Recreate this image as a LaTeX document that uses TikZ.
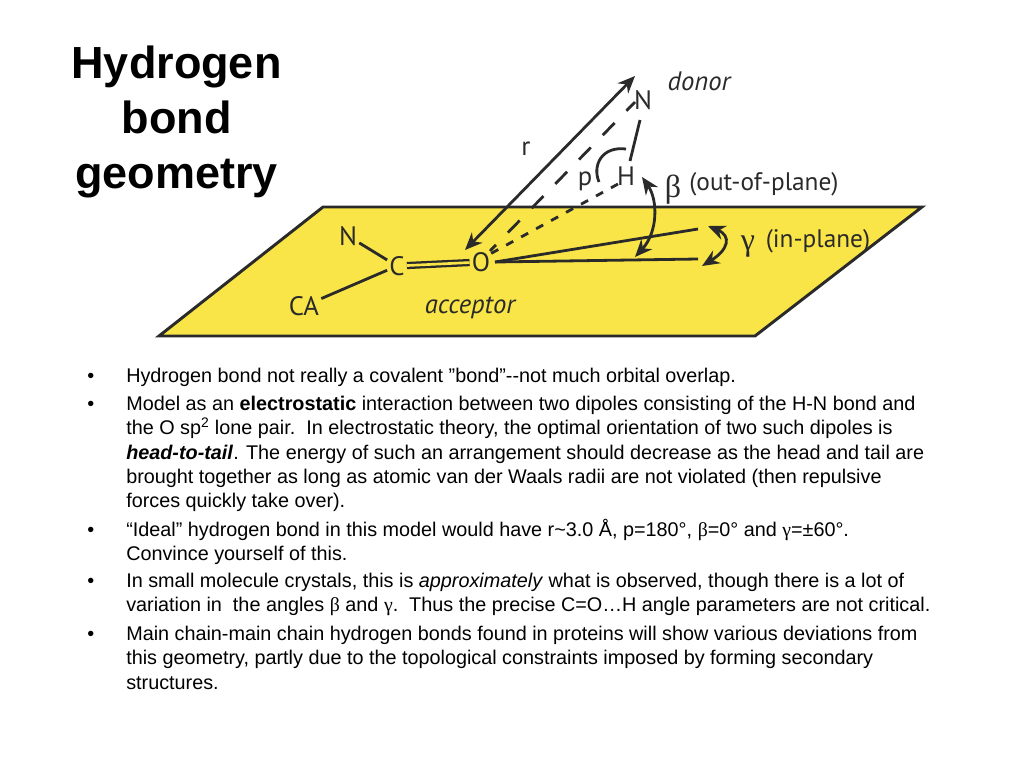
\documentclass[tikz,border=0pt]{standalone}
\usepackage{fontspec}
\setmainfont{Liberation Sans}
\newfontfamily\symfont{Liberation Serif}
\newfontfamily\labelfont{PT Sans}
\usetikzlibrary{arrows.meta}
\definecolor{planeyellow}{HTML}{F9E547}
\definecolor{inkgrey}{HTML}{2A2A2A}
\tikzset{
  atomlabel/.style={font=\labelfont\fontsize{20}{22}\selectfont, text=inkgrey, inner sep=1.5pt},
  planelabel/.style={atomlabel, font=\labelfont\fontsize{19}{21}\selectfont},
  bondline/.style={draw=inkgrey, line width=2.1pt},
  arrowline/.style={bondline, {Stealth[length=13pt,width=11pt]}-{Stealth[length=13pt,width=11pt]}},
  bullettext/.style={anchor=north west, align=left, inner sep=0pt, font=\fontsize{14.85}{18.2}\selectfont},
  bulletmark/.style={anchor=base west, inner sep=0pt, font=\fontsize{14.85}{18.2}\selectfont},
}
\newcommand{\gr}[1]{{\symfont #1}}
\begin{document}
\begin{tikzpicture}[x=0.75pt,y=-0.75pt]
  \useasboundingbox (0,0) rectangle (1024,768);

  % title
  \node[align=center, inner sep=0pt, font=\bfseries\fontsize{33.75}{41}\selectfont] (title) at (176.5,122) {Hydrogen\\bond\\geometry};

  % yellow plane
  \coordinate (pa) at (323,207);
  \coordinate (pb) at (922,207);
  \coordinate (pc) at (755,336);
  \coordinate (pd) at (159,336);
  \draw[draw=inkgrey, line width=2.2pt, fill=planeyellow, line join=miter] (pa) -- (pb) -- (pc) -- (pd) -- cycle;

  % acceptor atoms
  \node[atomlabel] (o) at (481,262) {O};
  \node[atomlabel] (c) at (397,266) {C};
  \node[atomlabel] (n1) at (348,236) {N};
  \node[atomlabel] (ca) at (304,306) {CA};
  \node[atomlabel] (acc) at (470,308) {\itshape acceptor};

  \draw[bondline] (n1) -- (c);
  \draw[bondline] (ca) -- (c);
  \draw[draw=inkgrey, line width=1.7pt, double=planeyellow, double distance=2pt] (c) -- (o);

  % donor atoms
  \node[atomlabel] (n2) at (643,100) {N};
  \node[atomlabel] (h) at (626,176) {H};
  \node[atomlabel] (pl) at (585,181) {p};
  \node[atomlabel] (rl) at (526,149) {r};
  \node[atomlabel] (don) at (699,81) {\itshape donor};

  \coordinate (rlow) at (465,250);
  \coordinate (rtop) at (635,76);
  \coordinate (o1) at (490,251);
  \coordinate (o2) at (490,254);
  \coordinate (o3) at (495,262);
  \coordinate (nb) at (635,102);
  \coordinate (hb) at (618,184);
  \coordinate (nh1) at (640,120);
  \coordinate (nh2) at (630,161);

  \draw[arrowline] (rlow) -- (rtop);
  \draw[bondline, dash pattern=on 12.7pt off 12.8pt, dash phase=3.5pt] (nb) -- (o1);
  \draw[bondline, dash pattern=on 6pt off 6.8pt] (hb) -- (o2);
  \draw[bondline] (nh1) -- (nh2);

  % p angle
  \coordinate (pta) at (599,182);
  \coordinate (ptb) at (626,149);
  \draw[bondline] (pta) .. controls (592,165) and (602,146) .. (ptb);

  % beta
  \node[atomlabel, font=\symfont\fontsize{24}{26}\selectfont] (bsym) at (673,190) {β};
  \node[planelabel] (bl) at (764,184) {(out-of-plane)};
  \coordinate (bta) at (642,177);
  \coordinate (btb) at (635,257);
  \draw[arrowline] (bta) .. controls (658,200) and (658,232) .. (btb);

  % in-plane lines
  \coordinate (g1) at (698,229);
  \coordinate (g2) at (698,259);
  \draw[bondline] (o3) -- (g1);
  \draw[bondline] (o3) -- (g2);

  % gamma
  \node[atomlabel, font=\symfont\fontsize{24}{26}\selectfont] (gsym) at (748,247) {γ};
  \node[planelabel] (gl) at (818,241) {(in-plane)};
  \coordinate (gta) at (708,226);
  \coordinate (gtb) at (702,266);
  \draw[arrowline] (gta) .. controls (732,236) and (728,250) .. (gtb);

  % bullets
  \foreach \yy in {382,410,536,587,640}
    \node[bulletmark] (mark\yy) at (87,\yy) {•};

  \node[bullettext] (item1) at (126,368) {Hydrogen bond not really a covalent ”bond”-{}-not much orbital overlap.};
  \node[bullettext] (item2) at (126,396) {Model as an \textbf{electrostatic} interaction between two dipoles consisting of the H-N bond and\\
    the O sp\textsuperscript{2} lone pair.\ \ In electrostatic theory, the optimal orientation of two such dipoles is\\
    \textbf{\textit{head-to-tail}}. The energy of such an arrangement should decrease as the head and tail are\\
    brought together as long as atomic van der Waals radii are not violated (then repulsive\\
    forces quickly take over).};
  \node[bullettext] (item3) at (126,519) {“Ideal” hydrogen bond in this model would have r\textasciitilde 3.0 Å, p=180°, \gr{β}=0° and \gr{γ}=±60°.\\
    Convince yourself of this.};
  \node[bullettext] (item4) at (126,573) {In small molecule crystals, this is \textit{approximately} what is observed, though there is a lot of\\
    variation in\ \ the angles \gr{β} and \gr{γ}.\ \ Thus the precise C=O…H angle parameters are not critical.};
  \node[bullettext] (item5) at (126,626) {Main chain-main chain hydrogen bonds found in proteins will show various deviations from\\
    this geometry, partly due to the topological constraints imposed by forming secondary\\
    structures.};
\end{tikzpicture}
\end{document}
